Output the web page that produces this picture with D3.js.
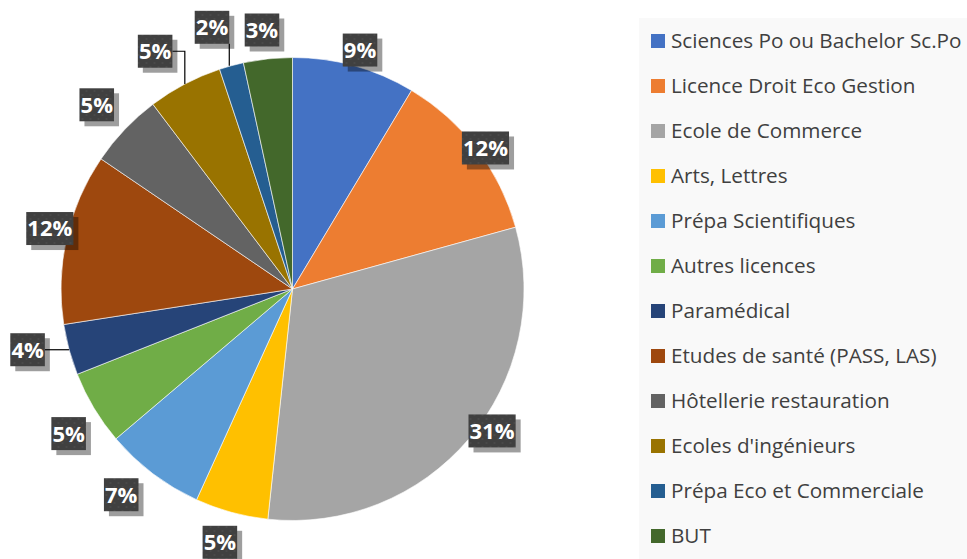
<!DOCTYPE html>
<html>
<head>
<meta charset="utf-8">
<script src="https://cdn.jsdelivr.net/npm/d3@7"></script>
<style>
  html, body { margin: 0; padding: 0; background: #fff; }
  svg { display: block; }
</style>
</head>
<body>
<svg id="chart" width="967" height="559"></svg>
<script>
// ---- Data ----
const categories = [
  "Sciences Po ou Bachelor Sc.Po",
  "Licence Droit Eco Gestion",
  "Ecole de Commerce",
  "Arts, Lettres",
  "Prépa Scientifiques",
  "Autres licences",
  "Paramédical",
  "Etudes de santé (PASS, LAS)",
  "Hôtellerie restauration",
  "Ecoles d'ingénieurs",
  "Prépa Eco et Commerciale",
  "BUT"
];
const values = [8.6, 12.1, 31.0, 5.1, 7.0, 5.2, 3.55, 11.95, 5.2, 5.2, 1.7, 3.4];
const colors = ["#4472C4", "#ED7D31", "#A5A5A5", "#FFC000", "#5B9BD5", "#70AD47",
                "#264478", "#9E480E", "#636363", "#997300", "#255E91", "#43682B"];

// ---- Layout (label placement relative to slice mid-angle: [angle offset deg, distance beyond radius]) ----
const labelPlacement = [[0.3,16.8],[1.1,7.5],[-4.9,13.4],[0.7,32],[2.7,36.2],[-1.9,35],
                        [2.3,40.3],[1.3,18.6],[-0.3,37.3],[-2.3,43.1],[-1.8,42.3],[-0.6,29.3]];
const leaderSlices = [6, 9, 10];

const svg = d3.select("#chart");
const cx = 292.5, cy = 289, R = 231.5;

const total = d3.sum(values);
const pie = d3.pie().sort(null).value(d => d)(values);
const arc = d3.arc().innerRadius(0).outerRadius(R);

// pattern for label boxes
const defs = svg.append("defs");
const pat = defs.append("pattern").attr("id", "dots").attr("patternUnits", "userSpaceOnUse")
  .attr("width", 8).attr("height", 8);
pat.append("rect").attr("width", 8).attr("height", 8).attr("fill", "#404040");
pat.append("circle").attr("cx", 2).attr("cy", 2).attr("r", 0.8).attr("fill", "#555");
pat.append("circle").attr("cx", 6).attr("cy", 6).attr("r", 0.8).attr("fill", "#555");

const g = svg.append("g").attr("transform", `translate(${cx},${cy})`);
g.selectAll("path.slice").data(pie).join("path")
  .attr("class", "slice")
  .attr("d", arc)
  .attr("fill", (d, i) => colors[i])
  .attr("stroke", "#ffffff")
  .attr("stroke-width", 0.6);

function polar(angle, r) { return [r * Math.sin(angle), -r * Math.cos(angle)]; }
const labels = pie.map((d, i) => {
  const mid = (d.startAngle + d.endAngle) / 2;
  const [da, dr] = labelPlacement[i];
  const [x, y] = polar(mid + da * Math.PI / 180, R + dr);
  return { i, mid, x, y, text: Math.round(d.value / total * 100) + "%" };
});

const lg = g.append("g");
labels.forEach(l => {
  const t = lg.append("text")
    .attr("x", l.x).attr("y", l.y).attr("dy", "0.36em")
    .attr("text-anchor", "middle")
    .attr("font-family", "'Open Sans', sans-serif")
    .attr("font-weight", "bold")
    .attr("font-size", 22)
    .attr("fill", "#ffffff")
    .text(l.text);
  const bb = t.node().getBBox();
  l.w = Math.max(33.5, bb.width + 2);
  l.h = 33;
  t.remove();
});

// leader lines drawn before boxes
labels.filter(l => leaderSlices.includes(l.i)).forEach(l => {
  const [ax, ay] = polar(l.mid, R);
  const left = l.x - l.w / 2, right = l.x + l.w / 2, top = l.y - l.h / 2, bottom = l.y + l.h / 2;
  let pts;
  if (ax >= left && ax <= right + 3 && ay > bottom) {
    const xx = Math.min(ax, right);
    pts = [[xx, ay], [xx, bottom]];
  } else if (ay >= top && ay <= bottom) {
    pts = [[ax, ay], [ax < l.x ? left : right, ay]];
  } else {
    pts = [[ax, ay], [ax, l.y], [ax < l.x ? left : right, l.y]];
  }
  lg.append("path").attr("d", d3.line()(pts))
    .attr("fill", "none").attr("stroke", "#000").attr("stroke-width", 1.2);
});

labels.forEach(l => {
  lg.append("rect")
    .attr("x", l.x - l.w / 2 + 5).attr("y", l.y - l.h / 2 + 5)
    .attr("width", l.w).attr("height", l.h)
    .attr("fill", "rgba(0,0,0,0.38)");
  lg.append("rect")
    .attr("x", l.x - l.w / 2).attr("y", l.y - l.h / 2)
    .attr("width", l.w).attr("height", l.h)
    .attr("fill", "url(#dots)");
  lg.append("text")
    .attr("x", l.x).attr("y", l.y).attr("dy", "0.36em")
    .attr("text-anchor", "middle")
    .attr("font-family", "'Open Sans', sans-serif")
    .attr("font-weight", "bold")
    .attr("font-size", 22)
    .attr("fill", "#ffffff")
    .text(l.text);
});

// legend
const legend = svg.append("g");
legend.append("rect").attr("x", 639).attr("y", 18).attr("width", 340).attr("height", 560)
  .attr("fill", "#f9f9f9");
const rowY = d3.scalePoint().domain(categories).range([41, 536]);
const items = legend.selectAll("g.item").data(categories).join("g").attr("class", "item")
  .attr("transform", d => `translate(651,${rowY(d)})`);
items.append("rect").attr("x", 0).attr("y", -7).attr("width", 14).attr("height", 14)
  .attr("fill", (d, i) => colors[i]);
items.append("text").attr("x", 20).attr("y", 0).attr("dy", "0.35em")
  .attr("font-family", "'Open Sans', sans-serif")
  .attr("font-size", 20.7)
  .attr("fill", "#404040")
  .text(d => d);
</script>
</body>
</html>
